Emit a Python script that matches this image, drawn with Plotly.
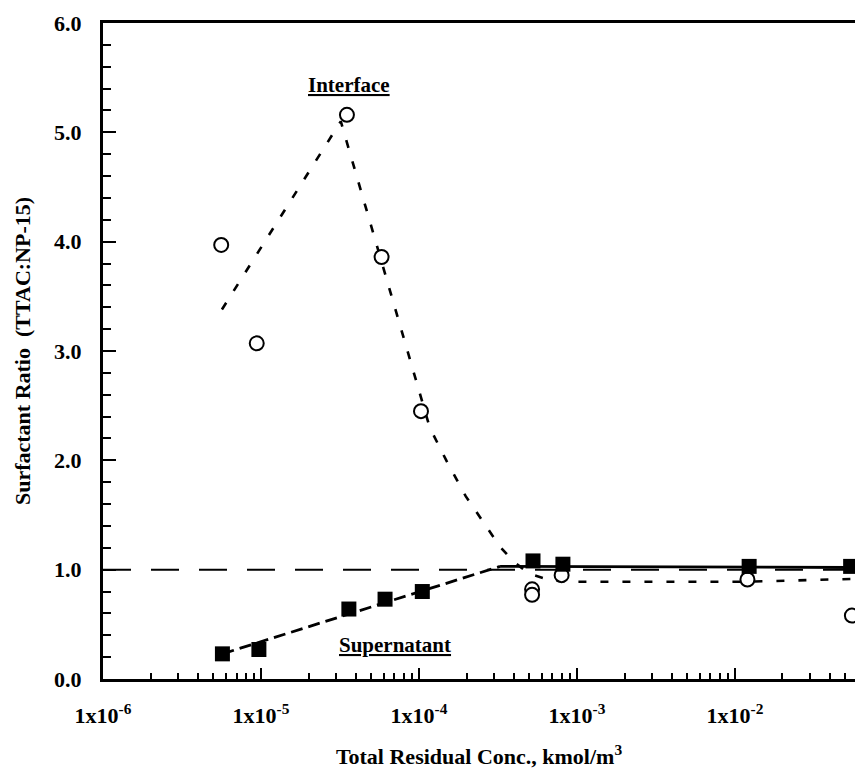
import math
import plotly.graph_objects as go

# ---- data ----
interface_x = [5.6e-6, 9.4e-6, 3.5e-5, 5.8e-5, 1.03e-4, 5.2e-4, 5.2e-4, 8.0e-4, 1.2e-2, 5.5e-2]
interface_y = [3.97, 3.07, 5.16, 3.86, 2.45, 0.82, 0.77, 0.95, 0.91, 0.58]

supernatant_x = [5.7e-6, 9.7e-6, 3.6e-5, 6.1e-5, 1.05e-4, 5.27e-4, 8.15e-4, 1.23e-2, 5.4e-2]
supernatant_y = [0.23, 0.27, 0.64, 0.73, 0.80, 1.08, 1.05, 1.03, 1.03]

interface_fit_x = [5.66e-6, 3.2e-5, 1.17e-4, 1.5e-4, 1.98e-4, 2.69e-4, 3.26e-4, 3.99e-4,
                   5.04e-4, 6.75e-4, 8.65e-4, 1.2e-2, 5.5e-2]
interface_fit_y = [3.38, 5.10, 2.30, 1.99, 1.67, 1.38, 1.21, 1.07, 0.96, 0.905, 0.89, 0.89, 0.915]

supernatant_fit_dash_x = [5.7e-6, 3.26e-4]
supernatant_fit_dash_y = [0.23, 1.03]
supernatant_fit_solid_x = [3.26e-4, 5.5e-2]
supernatant_fit_solid_y = [1.03, 1.02]

reference_x = [1e-6, 6e-2]
reference_y = [1.0, 1.0]

x_tick_vals = [1e-6, 1e-5, 1e-4, 1e-3, 1e-2]
x_tick_text = ["<b>1x10<sup>-6</sup></b>", "<b>1x10<sup>-5</sup></b>", "<b>1x10<sup>-4</sup></b>",
               "<b>1x10<sup>-3</sup></b>", "<b>1x10<sup>-2</sup></b>"]
x_minor_vals = [k * 10.0 ** e for e in range(-6, -1) for k in range(2, 10)]

y_tick_vals = [0, 1, 2, 3, 4, 5, 6]
y_tick_text = ["<b>0.0</b>", "<b>1.0</b>", "<b>2.0</b>", "<b>3.0</b>",
               "<b>4.0</b>", "<b>5.0</b>", "<b>6.0</b>"]

label_interface = "<b><u>Interface</u></b>"
label_supernatant = "<b><u>Supernatant</u></b>"
label_interface_pos = (3.6e-5, 5.43)
label_supernatant_pos = (7.05e-5, 0.31)

FONT = "Liberation Serif, Times New Roman, serif"

fig = go.Figure()

fig.add_trace(go.Scatter(x=reference_x, y=reference_y, mode="lines",
                         line=dict(color="black", width=2, dash="28px,20px"),
                         hoverinfo="skip", showlegend=False))
fig.add_trace(go.Scatter(x=interface_fit_x, y=interface_fit_y, mode="lines",
                         line=dict(color="black", width=2.6, dash="8px,14px"),
                         showlegend=False))
fig.add_trace(go.Scatter(x=supernatant_fit_dash_x, y=supernatant_fit_dash_y, mode="lines",
                         line=dict(color="black", width=2.8, dash="12px,6px"),
                         showlegend=False))
fig.add_trace(go.Scatter(x=supernatant_fit_solid_x, y=supernatant_fit_solid_y, mode="lines",
                         line=dict(color="black", width=2.8),
                         showlegend=False))
fig.add_trace(go.Scatter(x=interface_x, y=interface_y, mode="markers", name="Interface",
                         marker=dict(symbol="circle", size=14, color="white",
                                     line=dict(color="black", width=2)),
                         showlegend=False))
fig.add_trace(go.Scatter(x=supernatant_x, y=supernatant_y, mode="markers", name="Supernatant",
                         marker=dict(symbol="square", size=15, color="black",
                                     line=dict(color="black", width=0)),
                         showlegend=False))

fig.add_annotation(x=math.log10(label_interface_pos[0]), y=label_interface_pos[1],
                   text=label_interface, showarrow=False,
                   font=dict(family=FONT, size=21, color="black"))
fig.add_annotation(x=math.log10(label_supernatant_pos[0]), y=label_supernatant_pos[1],
                   text=label_supernatant, showarrow=False,
                   font=dict(family=FONT, size=21, color="black"))

fig.update_xaxes(type="log", range=[-6, -1.24],
                 tickmode="array", tickvals=x_tick_vals, ticktext=x_tick_text,
                 ticks="inside", ticklen=11, tickwidth=2, tickcolor="black",
                 minor=dict(tickmode="array", tickvals=x_minor_vals, ticks="inside",
                            ticklen=6, tickwidth=1.5, tickcolor="black", showgrid=False),
                 showline=True, linewidth=3, linecolor="black", mirror=True,
                 showgrid=False, zeroline=False,
                 tickfont=dict(family=FONT, size=22, color="black"),
                 ticklabelstandoff=15,
                 title=dict(text="<b>Total Residual Conc., kmol/m<sup>3</sup></b>",
                            font=dict(family=FONT, size=22, color="black"),
                            standoff=22))
fig.update_yaxes(range=[0, 6], tickmode="array", tickvals=y_tick_vals, ticktext=y_tick_text,
                 ticks="inside", ticklen=13, tickwidth=2, tickcolor="black",
                 minor=dict(tickmode="linear", tick0=0, dtick=0.2, ticks="inside", ticklen=8,
                            tickwidth=1.5, tickcolor="black", showgrid=False),
                 showline=True, linewidth=3, linecolor="black",
                 showgrid=False, zeroline=False,
                 tickfont=dict(family=FONT, size=22, color="black"),
                 ticklabelstandoff=14,
                 title=dict(text="<b>Surfactant Ratio\u00a0\u00a0(TTAC:NP-15)</b>",
                            font=dict(family=FONT, size=22, color="black"),
                            standoff=18))

fig.update_layout(width=855, height=770,
                  margin=dict(l=103, r=0, t=23, b=91, autoexpand=False),
                  paper_bgcolor="white", plot_bgcolor="white",
                  showlegend=False)

fig.write_html("out.html")
